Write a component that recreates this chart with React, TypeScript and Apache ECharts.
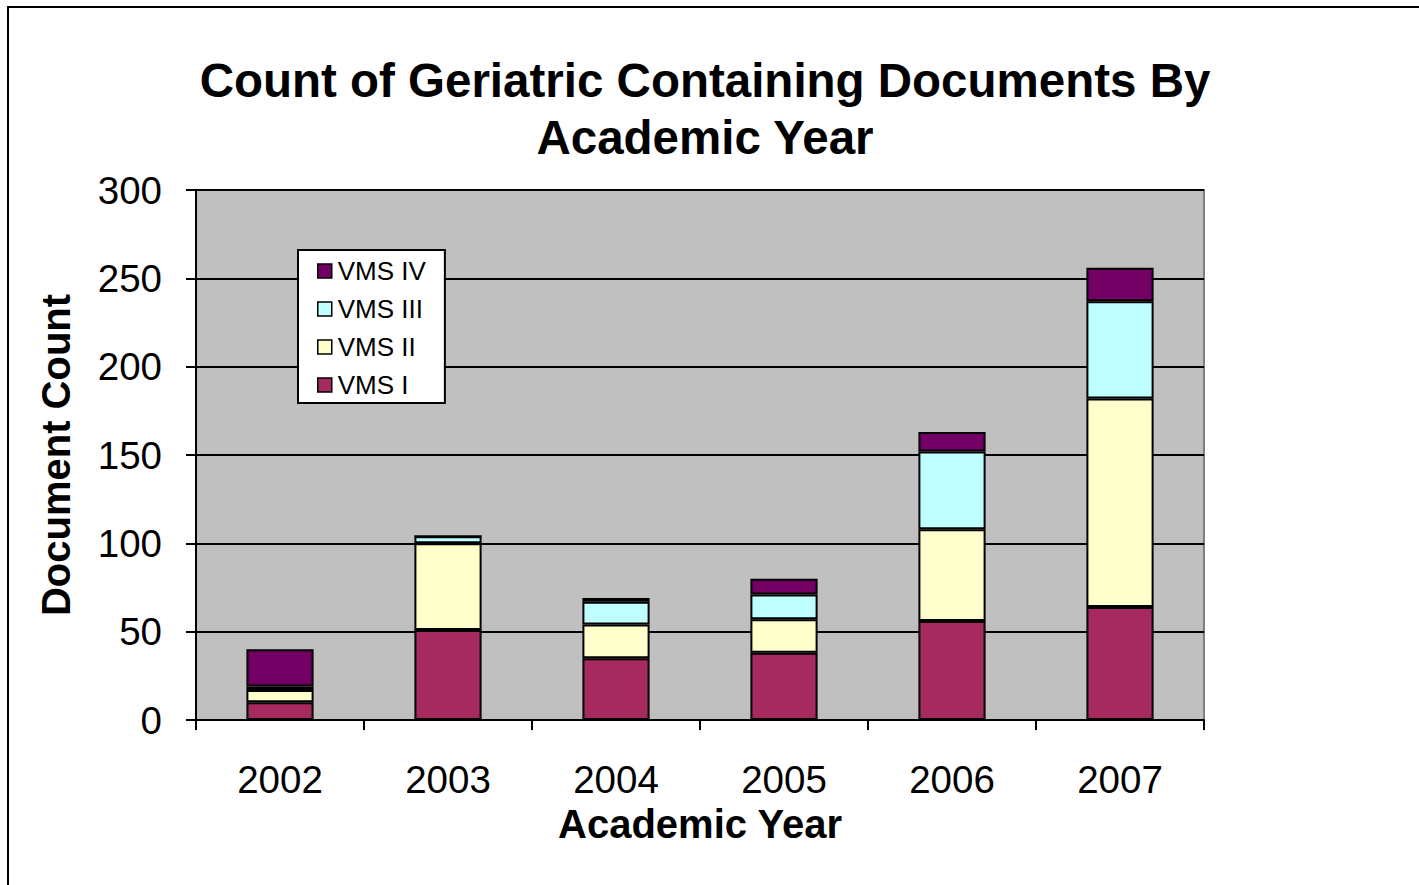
import React, { useEffect, useRef } from "react";
import * as echarts from "echarts";

const years = ["2002", "2003", "2004", "2005", "2006", "2007"];
const vms1 = [10, 51, 35, 38, 56, 64];
const vms2 = [7, 49, 19, 19, 52, 118];
const vms3 = [2, 4, 13, 14, 44, 55];
const vms4 = [21, 0, 2, 9, 11, 19];
const seriesNames = ["VMS I", "VMS II", "VMS III", "VMS IV"];
const seriesColors = ["#A6295F", "#FFFFCC", "#C0FFFF", "#720064"];
const yTicks = { min: 0, max: 300, interval: 50 };

const FONT = "'Liberation Sans', Arial, sans-serif";

export default function App() {
  const ref = useRef<HTMLDivElement>(null);
  useEffect(() => {
    if (!ref.current) return;
    const chart = echarts.init(ref.current, undefined, { renderer: "svg" });
    const data = [vms1, vms2, vms3, vms4];
    chart.setOption({
      animation: false,
      backgroundColor: "#ffffff",
      textStyle: { fontFamily: FONT, color: "#000" },
      title: {
        text: "Count of Geriatric Containing Documents By\nAcademic Year",
        left: 700,
        top: 47,
        textAlign: "center",
        textStyle: {
          fontFamily: FONT,
          fontSize: 47.5,
          fontWeight: "bold",
          lineHeight: 57,
          color: "#000",
        },
      },
      legend: {
        orient: "vertical",
        left: 298,
        top: 250,
        data: ["VMS IV", "VMS III", "VMS II", "VMS I"],
        backgroundColor: "#ffffff",
        borderColor: "#000",
        borderWidth: 2,
        padding: [7, 19, 4, 19],
        itemGap: 10,
        itemWidth: 14,
        itemHeight: 14,
        icon: "rect",
        itemStyle: { borderColor: "#000", borderWidth: 1.5 },
        textStyle: { fontFamily: FONT, fontSize: 26, lineHeight: 28, color: "#000", padding: [0, 0, 0, 1] },
      },
      graphic: [
        {
          type: "rect",
          shape: { x: 8, y: 7, width: 2000, height: 2000 },
          style: { fill: "none", stroke: "#000", lineWidth: 2 },
          silent: true,
        },
      ],
      grid: {
        left: 196,
        top: 190,
        width: 1008,
        height: 530,
        show: true,
        backgroundColor: "#C0C0C0",
        borderColor: "#808080",
        borderWidth: 2,
      },
      xAxis: {
        type: "category",
        data: years,
        name: "Academic Year",
        nameLocation: "middle",
        nameGap: 75,
        nameTextStyle: { fontFamily: FONT, fontSize: 40, fontWeight: "bold", color: "#000" },
        axisLine: { show: true, lineStyle: { color: "#000", width: 2 } },
        axisTick: { show: true, length: 10, lineStyle: { color: "#000", width: 2 } },
        axisLabel: { fontFamily: FONT, fontSize: 38.5, color: "#000", margin: 40 },
        splitLine: { show: false },
      },
      yAxis: {
        type: "value",
        min: yTicks.min,
        max: yTicks.max,
        interval: yTicks.interval,
        name: "Document Count",
        nameLocation: "middle",
        nameRotate: 90,
        nameGap: 120,
        nameTextStyle: { fontFamily: FONT, fontSize: 40, fontWeight: "bold", color: "#000" },
        axisLine: { show: true, lineStyle: { color: "#000", width: 2 } },
        axisTick: { show: true, length: 10, lineStyle: { color: "#000", width: 2 } },
        axisLabel: { fontFamily: FONT, fontSize: 38.5, color: "#000", margin: 34 },
        splitLine: { show: true, lineStyle: { color: "#000", width: 2 } },
      },
      series: seriesNames.map((name, i) => ({
        name,
        type: "bar",
        stack: "total",
        barWidth: "40%",
        data: data[i],
        itemStyle: { color: seriesColors[i], borderColor: "#000", borderWidth: 2 },
      })),
    });
    return () => chart.dispose();
  }, []);
  return (
    <div
      ref={ref}
      style={{ position: "absolute", left: 0, top: 0, width: 1419, height: 885 }}
    />
  );
}
